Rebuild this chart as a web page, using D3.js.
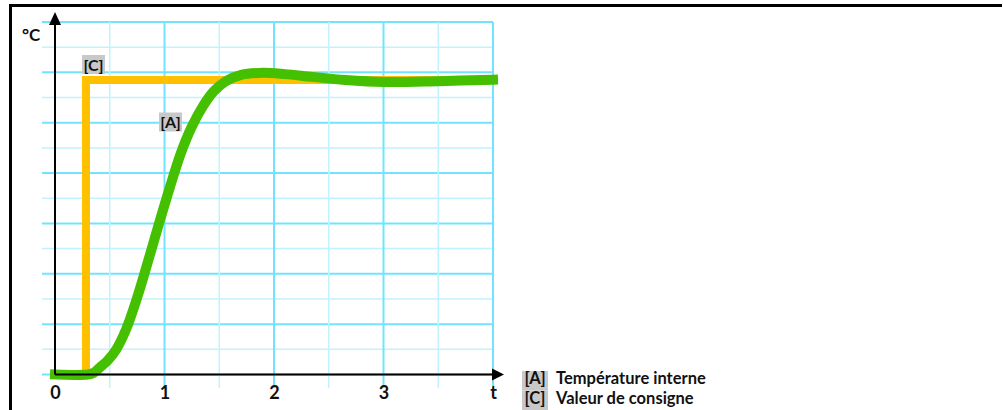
<!DOCTYPE html>
<html>
<head>
  <meta charset="utf-8">
  <style type="text/css">
    body { margin: 0; background: #fff; }
    svg text { font-family: Lato, "Open Sans", sans-serif; font-weight: 700; fill: #111; }
    .grid-major { stroke: #72e3ff; stroke-width: 2; }
    .grid-minor { stroke: #bff3ff; stroke-width: 1.5; }
    .axis-line { stroke: #000; stroke-width: 2; fill: none; }
    .tag-box { fill: #c8c8c8; }
  </style>
</head>
<body>

  <div class="svg_container"></div>

  <script src="https://cdnjs.cloudflare.com/ajax/libs/d3/7.8.5/d3.min.js"></script>
  <script type="text/javascript">
    // chart data
    var xTickValues = [0, 1, 2, 3, 4];
    var xTickLabels = ["0", "1", "2", "3", "t"];
    var yGridValues = d3.range(0, 15);          // 0..14, even = major
    var xGridValues = d3.range(0.5, 4.01, 0.5); // 0.5..4, integer = major

    // [A] internal temperature
    var tempTimes  = [0, 0.30, 0.35, 0.41, 0.48, 0.56, 0.65, 0.75, 0.85, 0.95, 1.05, 1.15,
                      1.25, 1.35, 1.45, 1.56, 1.70, 1.90, 2.10, 2.35, 2.65, 3.0, 3.5, 4.0];
    var tempValues = [0, 0, 0.06, 0.28, 0.55, 1.0, 1.8, 3.05, 4.5, 6.0, 7.45, 8.8,
                      9.85, 10.65, 11.25, 11.65, 11.9, 11.98, 11.93, 11.82, 11.7, 11.62, 11.65, 11.71];

    // [C] set point
    var setTimes  = [0, 0.283, 0.283, 4];
    var setValues = [0, 0, 11.7, 11.7];

    var legendKeys  = ["[A]", "[C]"];
    var legendNames = ["Température interne", "Valeur de consigne"];

    var width = 1003, height = 410;

    var x = d3.scaleLinear().domain([0, 4]).range([55, 493]);
    var y = d3.scaleLinear().domain([0, 14]).range([374.5, 22]);

    var svg = d3.select(".svg_container").append("svg")
      .attr("width", width)
      .attr("height", height);

    // outer frame (top + left edges)
    svg.append("path")
      .attr("d", "M10.5," + height + "V5.5H1002")
      .attr("fill", "none")
      .attr("stroke", "#000")
      .attr("stroke-width", 3);

    // grid
    svg.append("g").selectAll("line")
      .data(yGridValues)
      .enter().append("line")
      .attr("class", function(d) { return d % 2 === 0 ? "grid-major" : "grid-minor"; })
      .attr("x1", 42).attr("x2", x(4))
      .attr("y1", function(d) { return y(d); })
      .attr("y2", function(d) { return y(d); });

    svg.append("g").selectAll("line")
      .data(xGridValues)
      .enter().append("line")
      .attr("class", function(d) { return d % 1 === 0 ? "grid-major" : "grid-minor"; })
      .attr("x1", function(d) { return x(d); })
      .attr("x2", function(d) { return x(d); })
      .attr("y1", y(14)).attr("y2", 388);

    // set point and temperature lines
    var line = d3.line()
      .x(function(d) { return x(d[0]); })
      .y(function(d) { return y(d[1]); });

    svg.append("path")
      .datum(d3.zip(setTimes, setValues))
      .attr("d", line.curve(d3.curveLinear))
      .attr("fill", "none")
      .attr("stroke", "#ffc000")
      .attr("stroke-width", 8)
      .attr("stroke-linecap", "square")
      .attr("stroke-linejoin", "miter");

    svg.append("path")
      .datum(d3.zip(tempTimes, tempValues))
      .attr("d", line.curve(d3.curveCatmullRom.alpha(0.5)))
      .attr("fill", "none")
      .attr("stroke", "#44c000")
      .attr("stroke-width", 10)
      .attr("stroke-linecap", "square")
      .attr("stroke-linejoin", "round");

    // axes with arrows
    svg.append("line").attr("class", "axis-line")
      .attr("x1", x(0)).attr("x2", 494)
      .attr("y1", y(0)).attr("y2", y(0));
    svg.append("path")
      .attr("d", "M492," + (y(0) - 6) + "L504," + y(0) + "L492," + (y(0) + 6) + "Z");

    svg.append("line").attr("class", "axis-line")
      .attr("x1", x(0)).attr("x2", x(0))
      .attr("y1", y(0)).attr("y2", 22);
    svg.append("path")
      .attr("d", "M" + (x(0) - 6) + ",25L" + x(0) + ",12L" + (x(0) + 6) + ",25Z");

    // tick labels
    var xAxis = d3.axisBottom(x)
      .tickValues(xTickValues)
      .tickSize(0)
      .tickPadding(0)
      .tickFormat(function(d, i) { return xTickLabels[i]; });

    var gx = svg.append("g")
      .attr("transform", "translate(0,386)")
      .call(xAxis);
    gx.select(".domain").remove();
    gx.selectAll("text")
      .attr("dy", "0.71em")
      .style("font-family", "Lato, sans-serif")
      .style("font-weight", 700)
      .style("font-size", "18px")
      .style("fill", "#111");

    svg.append("text")
      .attr("x", 22).attr("y", 41)
      .style("font-size", "17px")
      .text("°C");

    // inline tags
    function tag(cx, cy, label) {
      svg.append("rect").attr("class", "tag-box")
        .attr("x", cx - 11.5).attr("y", cy - 9.5)
        .attr("width", 23).attr("height", 19);
      svg.append("text")
        .attr("x", cx).attr("y", cy + 6)
        .attr("text-anchor", "middle")
        .style("font-size", "16px")
        .text(label);
    }
    tag(93.5, 64.5, "[C]");
    tag(170.5, 122, "[A]");

    // legend
    var legend = svg.append("g").selectAll("g")
      .data(legendKeys)
      .enter().append("g")
      .attr("transform", function(d, i) { return "translate(522," + (371 + i * 19.5) + ")"; });

    legend.append("rect").attr("class", "tag-box")
      .attr("width", 26).attr("height", 19.5);
    legend.append("text")
      .attr("x", 13).attr("y", 13)
      .attr("text-anchor", "middle")
      .style("font-size", "16.5px")
      .text(function(d) { return d; });
    legend.append("text")
      .attr("x", 34).attr("y", 13)
      .style("font-size", "16.5px")
      .text(function(d, i) { return legendNames[i]; });
  </script>

</body>
</html>
